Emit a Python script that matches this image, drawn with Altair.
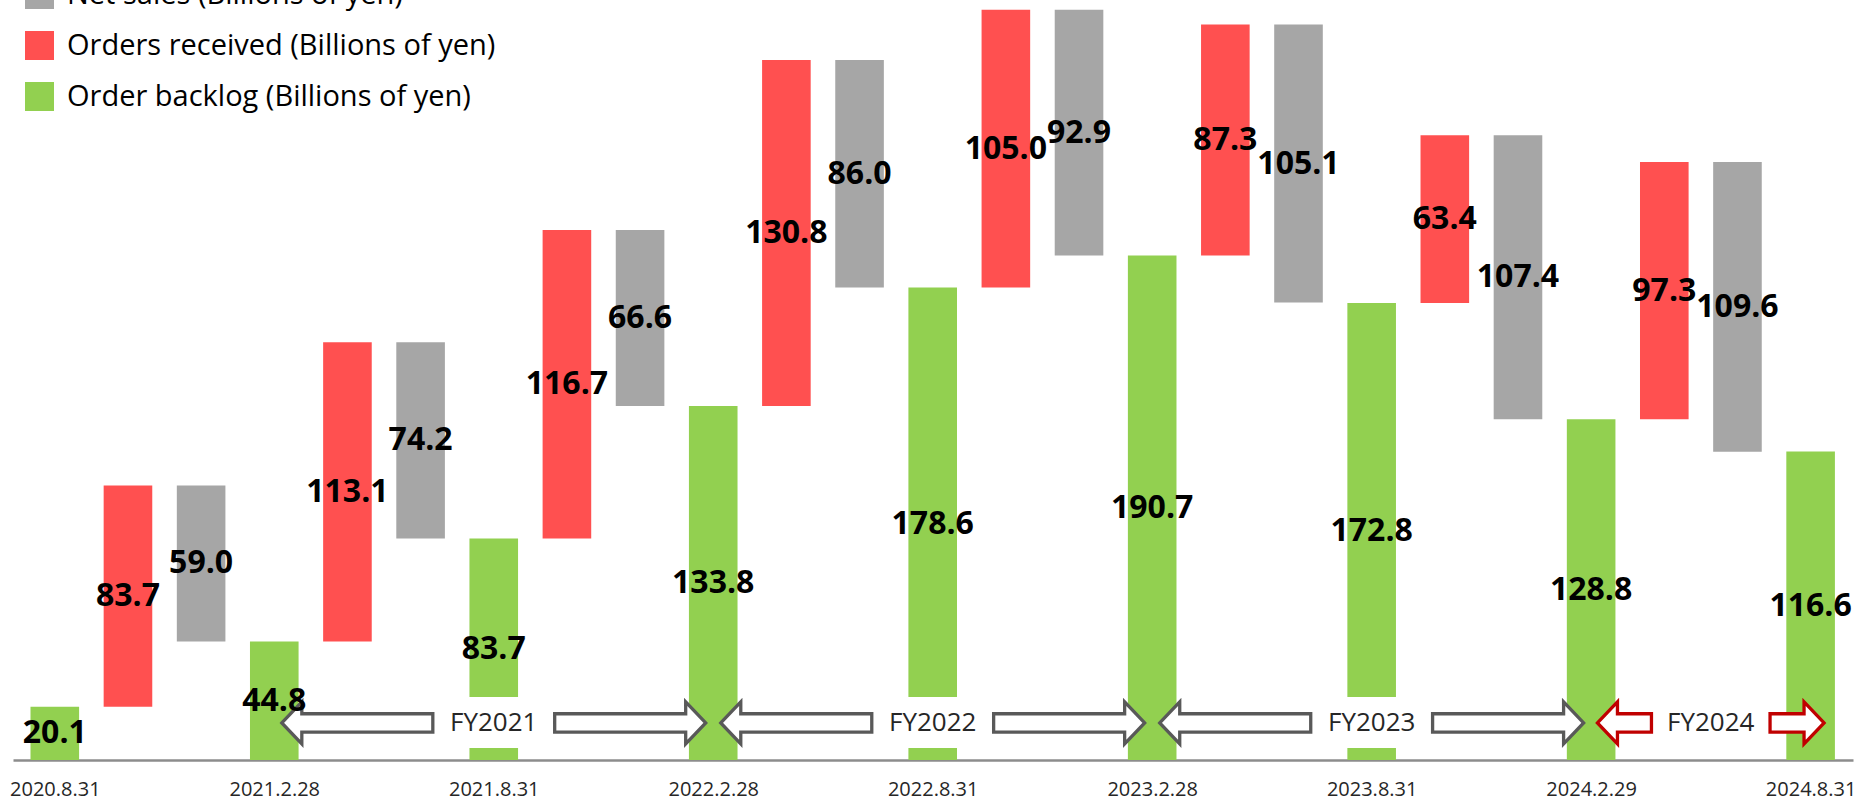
import json
import altair as alt
import pandas as pd

# ---------------- data ----------------
dates = ["2020.8.31", "2021.2.28", "2021.8.31", "2022.2.28", "2022.8.31",
         "2023.2.28", "2023.8.31", "2024.2.29", "2024.8.31"]
backlog = [20.1, 44.8, 83.7, 133.8, 178.6, 190.7, 172.8, 128.8, 116.6]
orders = [83.7, 113.1, 116.7, 130.8, 105.0, 87.3, 63.4, 97.3]
sales = [59.0, 74.2, 66.6, 86.0, 92.9, 105.1, 107.4, 109.6]

series_names = ["Net sales (Billions of yen)",
                "Orders received (Billions of yen)",
                "Order backlog (Billions of yen)"]
series_colors = ["#A6A6A6", "#FF5050", "#92D050"]

fy_labels = ["FY2021", "FY2022", "FY2023", "FY2024"]
fy_start = [3, 9, 15, 21]          # slot index of the opening backlog bar
fy_end = [9, 15, 21, 24.27]        # slot index of the closing backlog bar (FY2024 open-ended)
fy_color = ["#595959", "#595959", "#595959", "#C00000"]
fy_arrow_len = [151, 151, 151, 54]  # px
fy_arrow_gap = [8, 8, 8, 6.5]       # px

# ---------------- layout ----------------
W, H = 1840, 760
X_DOM = [-0.503, 24.511]
Y_DOM = [0, 287.3]
px_per_idx = W / (X_DOM[1] - X_DOM[0])
ARROW_Y = 14.0
BOX_Y = [4.5, 23.8]

rows = []
for k, b in enumerate(backlog):
    rows.append(dict(x=3 * k, y0=0.0, y1=b, val=b, series=series_names[2]))
    if k < len(orders):
        top = b + orders[k]
        rows.append(dict(x=3 * k + 1, y0=b, y1=top, val=orders[k], series=series_names[1]))
        rows.append(dict(x=3 * k + 2, y0=top - sales[k], y1=top, val=sales[k], series=series_names[0]))
bars = pd.DataFrame(rows)
bars["mid"] = (bars.y0 + bars.y1) / 2
bars["lab"] = bars.val.map(lambda v: f"{v:.1f}")


def arrow_path(L, head_len, head_half, shaft_half, direction):
    s = L / 2.0
    hx = -1 + head_len / s
    hh = head_half / s
    sh = shaft_half / s
    pts = [(-1, 0), (hx, -hh), (hx, -sh), (1, -sh), (1, sh), (hx, sh), (hx, hh)]
    if direction == "R":
        pts = [(-x, y) for x, y in pts]
    return "M" + " L".join(f"{x:.4f},{y:.4f}" for x, y in pts) + " Z"


arr_rows, box_rows, fy_rows = [], [], []
for lab, s, e, col, L, g in zip(fy_labels, fy_start, fy_end, fy_color, fy_arrow_len, fy_arrow_gap):
    c_off = (g + L / 2) / px_per_idx
    b_off = (g + L) / px_per_idx
    kind = "gray" if col == "#595959" else "red"
    arr_rows.append(dict(x=s + c_off, y=ARROW_Y, shape=kind + "L", col=col, sz=L * L))
    arr_rows.append(dict(x=e - c_off, y=ARROW_Y, shape=kind + "R", col=col, sz=L * L))
    box_rows.append(dict(x=s + b_off, x2=e - b_off, y=BOX_Y[0], y2=BOX_Y[1]))
    fy_rows.append(dict(x=(s + e) / 2, y=ARROW_Y, lab=lab))
arrows = pd.DataFrame(arr_rows)
boxes = pd.DataFrame(box_rows)
fys = pd.DataFrame(fy_rows)

shape_dom = ["grayL", "grayR", "redL", "redR"]
shape_rng = [arrow_path(151, 20, 21, 9.2, "L"), arrow_path(151, 20, 21, 9.2, "R"),
             arrow_path(54, 20, 21, 9.2, "L"), arrow_path(54, 20, 21, 9.2, "R")]

xscale = alt.Scale(domain=X_DOM, nice=False, zero=False)
yscale = alt.Scale(domain=Y_DOM, nice=False, zero=False)
label_expr = json.dumps(dates) + "[round(datum.value / 3)]"
x_axis = alt.Axis(values=[3 * i for i in range(len(dates))], labelExpr=label_expr,
                  ticks=False, grid=False, title=None, domainColor="#8C8C8C",
                  domainWidth=2.5, labelFontSize=20, labelFont="Open Sans",
                  labelColor="#262626", labelPadding=19, labelFlush=False,
                  labelOverlap=False)


def X(field):
    return alt.X(field, scale=xscale, axis=x_axis)


def Y(field):
    return alt.Y(field, scale=yscale, axis=None)


bar_layer = alt.Chart(bars).mark_bar(size=48.6).encode(
    x=X("x:Q"),
    y=Y("y0:Q"),
    y2="y1:Q",
    color=alt.Color("series:N",
                    scale=alt.Scale(domain=series_names, range=series_colors),
                    legend=alt.Legend(orient="none", legendX=12, legendY=-20, title=None,
                                      symbolType="square", symbolSize=841, symbolStrokeWidth=0,
                                      labelFontSize=29, labelFont="Open Sans", labelColor="#000000",
                                      labelOffset=13, rowPadding=21, padding=0, labelLimit=0)),
)

box_layer = alt.Chart(boxes).mark_rect(color="white").encode(
    x=X("x:Q"), x2="x2:Q",
    y=Y("y:Q"), y2="y2:Q",
)

arrow_layer = alt.Chart(arrows).mark_point(filled=True, fill="white", strokeWidth=3.3,
                                           opacity=1, fillOpacity=1).encode(
    x=X("x:Q"),
    y=Y("y:Q"),
    shape=alt.Shape("shape:N", scale=alt.Scale(domain=shape_dom, range=shape_rng), legend=None),
    size=alt.Size("sz:Q", scale=None, legend=None),
    stroke=alt.Stroke("col:N", scale=None, legend=None),
)

fy_layer = alt.Chart(fys).mark_text(fontSize=26, font="Open Sans", color="#262626",
                                     baseline="middle", align="center").encode(
    x=X("x:Q"),
    y=Y("y:Q"),
    text="lab:N",
)

val_layer = alt.Chart(bars).mark_text(fontSize=32, font="Open Sans", fontWeight="bold",
                                       color="#000000", baseline="middle", align="center").encode(
    x=X("x:Q"),
    y=Y("mid:Q"),
    text="lab:N",
)

chart = alt.layer(bar_layer, box_layer, arrow_layer, fy_layer, val_layer).properties(
    width=W, height=H,
    autosize=alt.AutoSizeParams(type="none"),
    padding={"left": 13, "top": 0, "right": 12, "bottom": 48},
    background="white",
).configure_view(stroke=None)

chart.save("out.html", embed_options={"renderer": "svg", "actions": False})
